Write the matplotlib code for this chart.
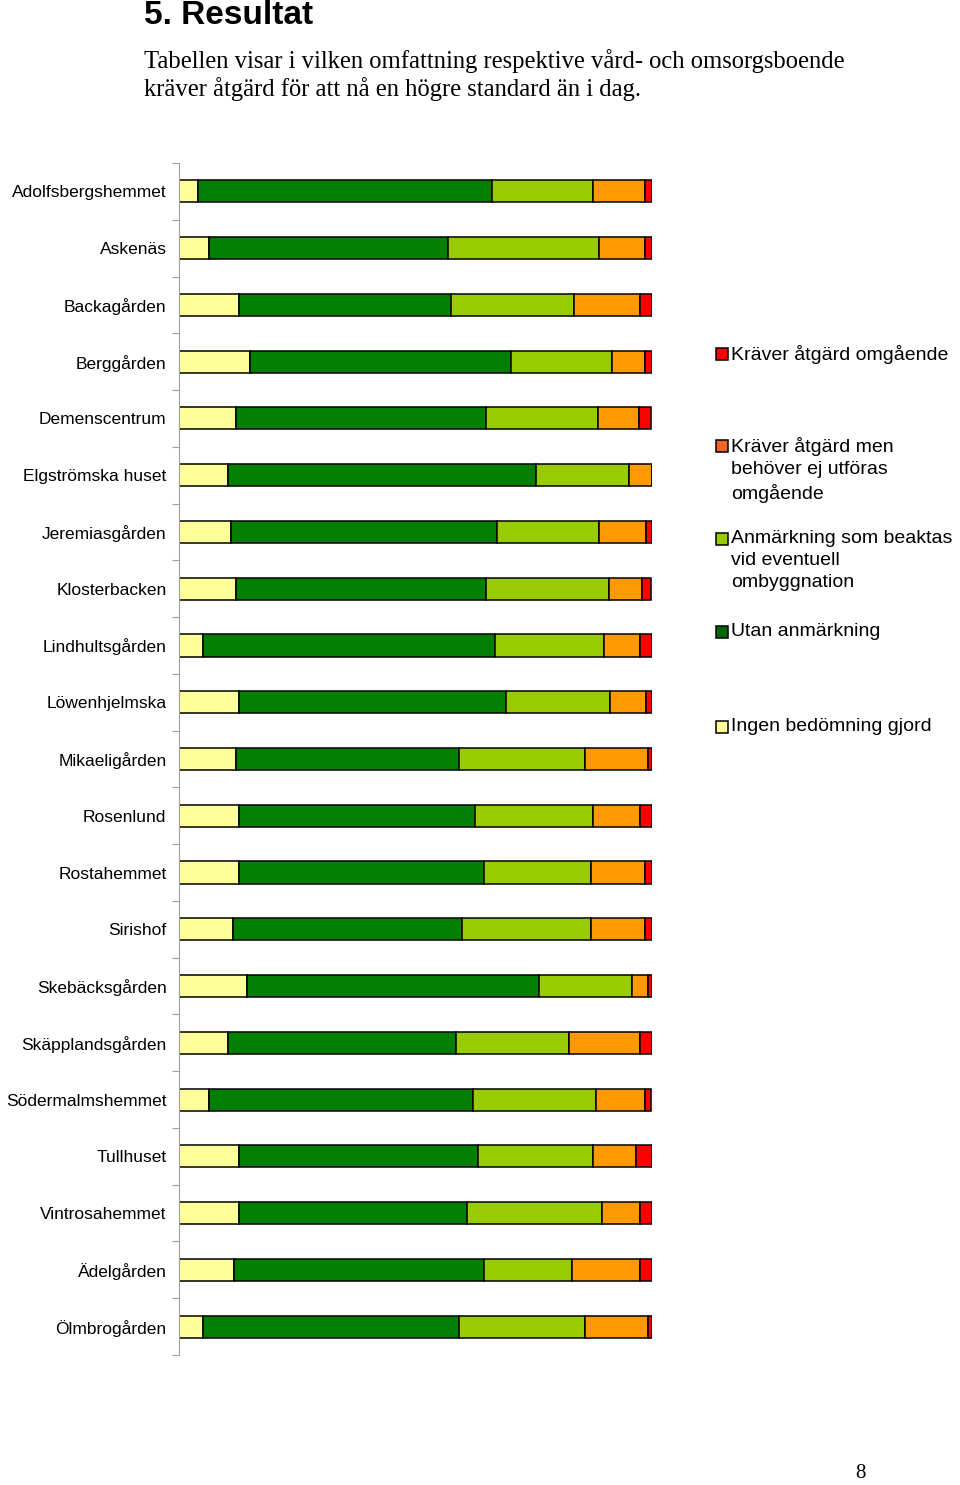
import matplotlib as mpl
mpl.use('Agg')
import matplotlib.pyplot as plt
from matplotlib.patches import Rectangle
import numpy as np

# =========================================================
# 	Data (share in percent)
# =========================================================

boenden = [
    'Adolfsbergshemmet', 'Askenäs', 'Backagården', 'Berggården',
    'Demenscentrum', 'Elgströmska huset', 'Jeremiasgården', 'Klosterbacken',
    'Lindhultsgården', 'Löwenhjelmska', 'Mikaeligården', 'Rosenlund',
    'Rostahemmet', 'Sirishof', 'Skebäcksgården', 'Skäpplandsgården',
    'Södermalmshemmet', 'Tullhuset', 'Vintrosahemmet', 'Ädelgården',
    'Ölmbrogården',
]

ingen_bedomning = [4.0, 6.3, 12.6, 15.0, 12.1, 10.4, 10.9, 12.1, 5.1, 12.6, 12.0,
                   12.6, 12.6, 11.4, 14.4, 10.4, 6.3, 12.6, 12.6, 11.6, 5.1]
utan_anmarkning = [62.3, 50.7, 44.9, 55.3, 52.9, 65.1, 56.5, 52.9, 61.7, 56.6, 47.2,
                   50.1, 51.9, 48.5, 61.7, 48.3, 55.9, 50.7, 48.4, 52.9, 54.1]
anmarkning = [21.4, 31.8, 26.0, 21.4, 23.6, 19.8, 21.4, 26.1, 23.1, 22.0, 26.7,
              24.9, 22.6, 27.2, 19.7, 23.8, 26.1, 24.3, 28.6, 18.6, 26.7]
atgard_men = [11.0, 9.9, 14.0, 6.9, 8.8, 4.7, 10.0, 6.9, 7.6, 7.6, 13.4,
              9.9, 11.5, 11.5, 3.5, 15.0, 10.4, 9.2, 7.9, 14.4, 13.4]
atgard_omgaende = [1.4, 1.4, 2.5, 1.4, 2.5, 0.0, 1.2, 1.9, 2.5, 1.2, 0.7,
                   2.5, 1.4, 1.4, 0.7, 2.5, 1.2, 3.2, 2.5, 2.5, 0.7]

series = [ingen_bedomning, utan_anmarkning, anmarkning, atgard_men, atgard_omgaende]
colors = ['#FFFF99', '#007F00', '#99CC00', '#FF9900', '#FF0000']

legend_labels = [
    'Kräver åtgärd omgående',
    'Kräver åtgärd men\nbehöver ej utföras\nomgående',
    'Anmärkning som beaktas\nvid eventuell\nombyggnation',
    'Utan anmärkning',
    'Ingen bedömning gjord',
]
legend_colors = ['#FF0000', '#F26522', '#99CC00', '#006600', '#FFFF99']

# =========================================================
# 	Plot
# =========================================================

W, H = 960, 1485
fig = plt.figure(figsize=(W / 100, H / 100), dpi=100)
ax = fig.add_axes([179 / W, 1 - 1355 / H, 472.5 / W, (1355 - 163) / H])

y = np.arange(len(boenden))
left = np.zeros(len(boenden))
for vals, col in zip(series, colors):
    vals = np.array(vals)
    ax.barh(y, vals, left=left, height=0.39, color=col,
            edgecolor='black', linewidth=1.1)
    left += vals

ax.set_xlim(0, 100)
ax.set_ylim(len(boenden) - 0.5, -0.5)
ax.set_yticks(y)
ax.set_yticklabels(boenden, fontsize=12.5, family=['Liberation Sans', 'DejaVu Sans'])
ax.tick_params(axis='y', which='major', length=0, pad=9)
ax.set_yticks(np.arange(-0.5, len(boenden)), minor=True)
ax.tick_params(axis='y', which='minor', length=5, color='#A0A0A0', width=0.8)
ax.set_xticks([])
for side in ['top', 'right', 'bottom']:
    ax.spines[side].set_visible(False)
ax.spines['left'].set_color('#A0A0A0')
ax.spines['left'].set_linewidth(0.8)

# Legend, drawn by hand to keep the spacing of the original
legend_y = [353, 445, 538, 631, 726]
for lab, col, ly in zip(legend_labels, legend_colors, legend_y):
    fig.patches.append(Rectangle((716 / W, 1 - (ly + 7) / H), 12 / W, 12 / H,
                                 transform=fig.transFigure, facecolor=col,
                                 edgecolor='black', linewidth=1.1))
    fig.text(731 / W, 1 - (ly - 8) / H, lab, fontsize=14, va='top', ha='left',
             linespacing=1.38, family=['Liberation Sans', 'DejaVu Sans'])

# Heading and text
fig.text(144 / W, 1 - 16 / H, '5. Resultat', fontsize=24, fontweight='bold',
         va='center', ha='left',
         family=['Liberation Sans Narrow', 'Liberation Sans', 'DejaVu Sans'])
fig.text(144 / W, 1 - 49 / H,
         'Tabellen visar i vilken omfattning respektive vård- och omsorgsboende\n'
         'kräver åtgärd för att nå en högre standard än i dag.',
         fontsize=17.7, va='top', ha='left', linespacing=1.22,
         family=['Liberation Serif', 'DejaVu Serif'])
fig.text(860 / W, 1 - 1474 / H, '8', fontsize=15, va='center', ha='center',
         family=['Liberation Serif', 'DejaVu Serif'])

plt.savefig('out.png', dpi=100)
